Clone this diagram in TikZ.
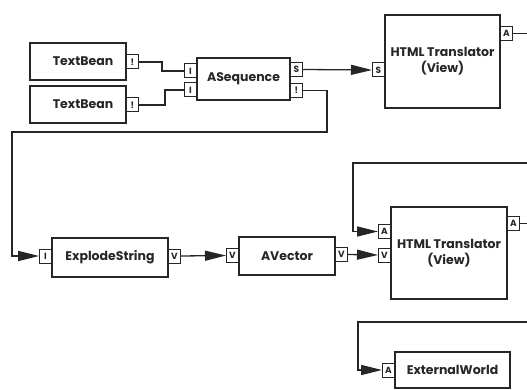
\documentclass[tikz,border=0pt]{standalone}
\usepackage{fontspec}
\setmainfont{Poppins}
\usetikzlibrary{arrows.meta}
\begin{document}
\begin{tikzpicture}[x=1pt,y=1pt,
  box/.style={draw=black!85, line width=1.1pt, rectangle, inner sep=0pt, align=center,
    font=\bfseries\fontsize{12.5}{16}\selectfont, text=black!85},
  port/.style={draw=black!85, line width=1pt, rectangle, minimum width=12pt, minimum height=14pt,
    inner sep=0pt, font=\bfseries\fontsize{9}{9}\selectfont, text=black!85},
  wire/.style={draw=black!85, line width=1.3pt},
  arr/.style={wire, -{Triangle[length=21pt,width=10pt]}}]
\useasboundingbox (0,0) rectangle (527,-390);

% TextBeans
\node[box, minimum width=96pt, minimum height=37pt] (tb1) at (78,-61.5) {\hspace*{10pt}TextBean};
\node[port, anchor=west] (tb1o) at (126,-62) {!};
\node[box, minimum width=96pt, minimum height=37pt] (tb2) at (78,-104.5) {\hspace*{10pt}TextBean};
\node[port, anchor=west] (tb2o) at (126,-105) {!};

% ASequence
\node[box, minimum width=93pt, minimum height=42pt] (aseq) at (243.5,-79) {ASequence};
\node[port, anchor=east] (asi1) at (197,-71) {I};
\node[port, anchor=east] (asi2) at (197,-90) {I};
\node[port, anchor=west] (aso1) at (290,-69.5) {S};
\node[port, anchor=west] (aso2) at (290,-90.5) {!};

% HTML Translator 1
\node[box, minimum width=115pt, minimum height=93pt] (html1) at (442.5,-61.5) {HTML Translator\\(View)};
\node[port, anchor=east] (h1s) at (385,-70) {S};
\node[port, anchor=west] (h1a) at (500,-33.5) {A};
\coordinate (h1end) at (527,-33.5);

% ExplodeString
\node[box, minimum width=116pt, minimum height=39pt] (expl) at (110,-257.5) {ExplodeString};
\node[port, anchor=east] (exi) at (52,-256) {I};
\node[port, anchor=west] (exo) at (168,-256) {V};

% AVector
\node[box, minimum width=96pt, minimum height=38pt] (avec) at (287,-256) {AVector};
\node[port, anchor=east] (avi) at (239,-255.5) {V};
\node[port, anchor=west] (avo) at (335,-254.5) {V};

% HTML Translator 2
\node[box, minimum width=116pt, minimum height=92pt] (html2) at (449,-253) {HTML Translator\\(View)};
\node[port, anchor=east] (h2a) at (391,-231.5) {A};
\node[port, anchor=east] (h2v) at (391,-255) {V};
\node[port, anchor=west] (h2o) at (507,-223.5) {A};
\coordinate (h2end) at (527,-223.5);

% ExternalWorld
\node[box, minimum width=115pt, minimum height=36pt] (ext) at (452.5,-370) {ExternalWorld};
\node[port, anchor=east] (exa) at (395,-370) {A};

% free ends
\coordinate (fb1) at (527,-163);
\coordinate (fb2) at (527,-322);

% connectors
\draw[wire] (tb1o.east) -- (162,-62) |- (asi1.west);
\draw[wire] (tb2o.east) -- (165,-105) |- (asi2.west);
\draw[arr] (aso1.east) -- (h1s.west);
\draw[arr] (aso2.east) -- (327,-90.5) -- (327,-132) -- (12,-132) |- (exi.west);
\draw[arr] (exo.east) -- (avi.west);
\draw[arr] (avo.east) -- (h2v.west);
\draw[wire] (h1a.east) -- (h1end);
\draw[wire] (h2o.east) -- (h2end);
\draw[arr] (fb1) -- (353,-163) |- (h2a.west);
\draw[arr] (fb2) -- (358,-322) |- (exa.west);
\end{tikzpicture}
\end{document}
